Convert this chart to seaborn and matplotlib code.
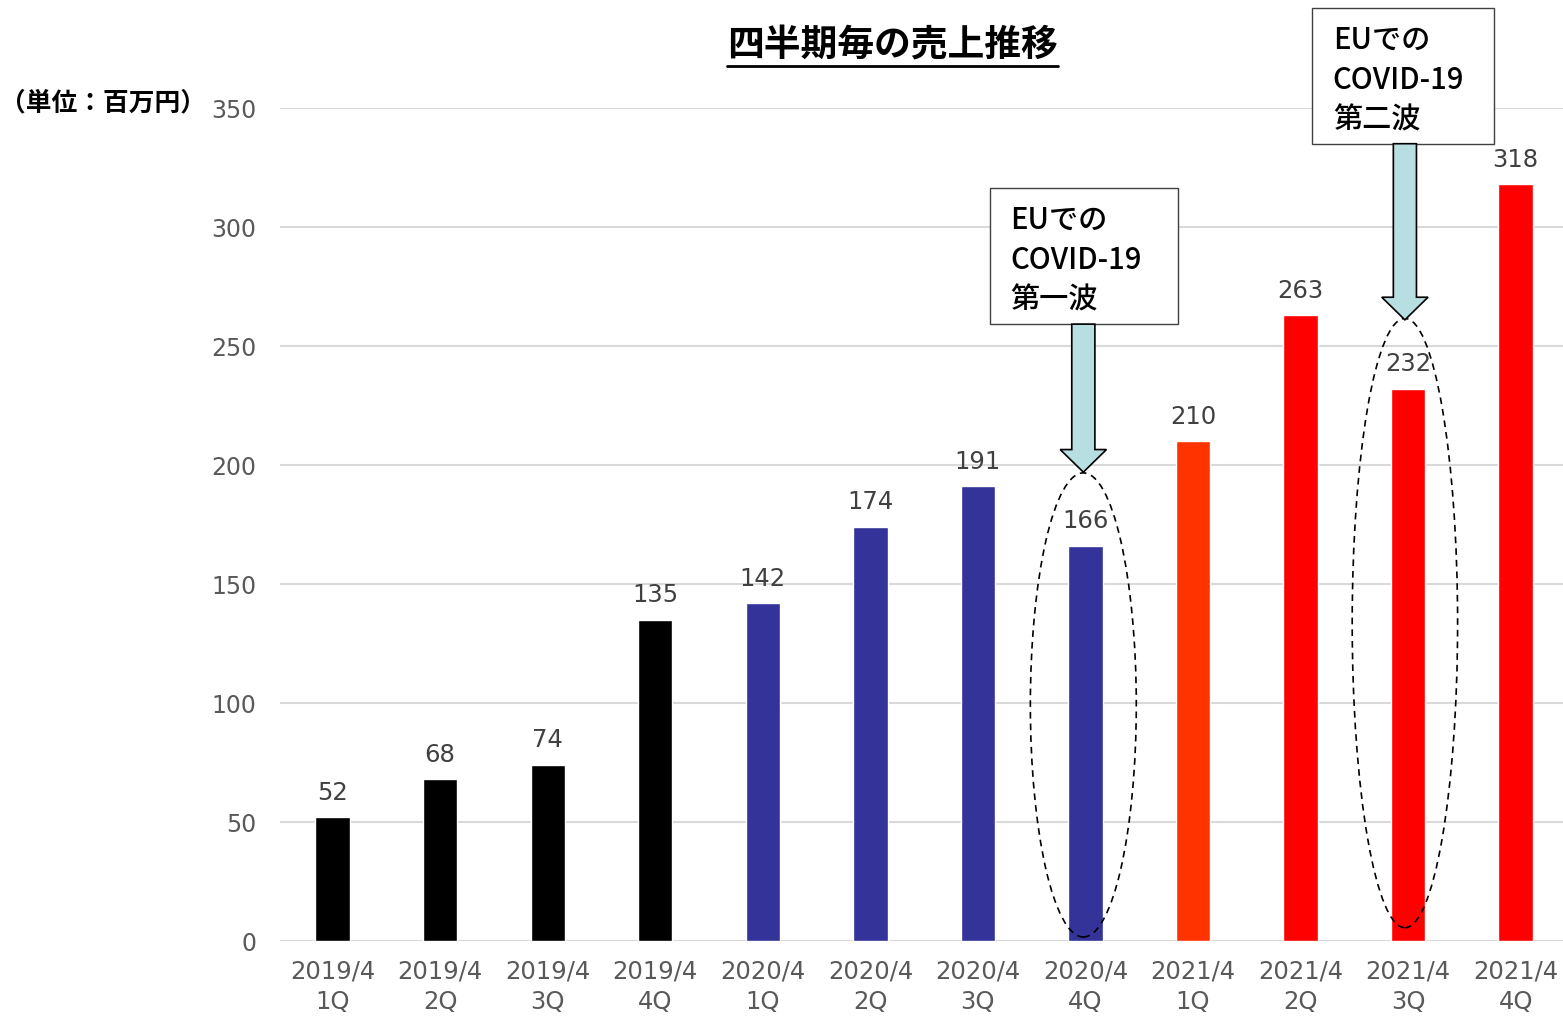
import matplotlib
matplotlib.use("Agg")
import matplotlib.pyplot as plt
import matplotlib.patches as mpatches
from matplotlib.lines import Line2D
import seaborn as sns
import pandas as pd

# Quarterly sales (million yen)
quarters = ["2019/4\n1Q", "2019/4\n2Q", "2019/4\n3Q", "2019/4\n4Q",
            "2020/4\n1Q", "2020/4\n2Q", "2020/4\n3Q", "2020/4\n4Q",
            "2021/4\n1Q", "2021/4\n2Q", "2021/4\n3Q", "2021/4\n4Q"]
sales = [52, 68, 74, 135, 142, 174, 191, 166, 210, 263, 232, 318]
bar_colors = ["#000000", "#000000", "#000000", "#000000",
              "#333399", "#333399", "#333399", "#333399",
              "#FF3300", "#FF0000", "#FF0000", "#FF0000"]
y_ticks = [0, 50, 100, 150, 200, 250, 300, 350]

title = "四半期毎の売上推移"
unit_label = "（単位：百万円）"
wave_notes = [("EUでの\nCOVID-19\n第一波", 7), ("EUでの\nCOVID-19\n第二波", 10)]

sns.set_theme(style="white")
cjk = ["Noto Sans CJK JP", "DejaVu Sans"]
plt.rcParams["font.family"] = ["DejaVu Sans"]

df = pd.DataFrame({"quarter": quarters, "sales": sales})

fig = plt.figure(figsize=(15.63, 10.18), dpi=100)
ax = fig.add_axes([0.1791, 0.0756, 0.8209, 0.8183])

sns.barplot(data=df, x="quarter", y="sales", hue="quarter",
            palette=bar_colors, width=0.32, legend=False, ax=ax,
            saturation=1)

ax.set_ylim(0, 350)
ax.set_xlim(-0.49, 11.44)
ax.set_yticks(y_ticks)
ax.set_xlabel("")
ax.set_ylabel("")
ax.yaxis.grid(True, color="#D9D9D9", linewidth=1.5)
ax.set_axisbelow(True)
for s in ax.spines.values():
    s.set_visible(False)
ax.tick_params(axis="y", length=0, pad=17, labelsize=17, labelcolor="#595959")
ax.tick_params(axis="x", length=0, pad=13, labelsize=17.5, labelcolor="#595959")
for lbl in ax.get_xticklabels():
    lbl.set_linespacing(1.35)

for cont in ax.containers:
    ax.bar_label(cont, padding=9, fontsize=17.5, color="#404040")

# Annotation boxes, arrows and dashed ellipses marking the COVID-19 waves
box_specs = {
    7: dict(box=(6.11, 259.2, 1.75, 57.2), tip=197, tail=259.2,
            ell=(6.98, 99.2, 0.985, 195)),
    10: dict(box=(9.11, 335.0, 1.69, 57.0), tip=261, tail=335.0,
             ell=(9.97, 133.6, 0.98, 256)),
}
for text, idx in wave_notes:
    spec = box_specs[idx]
    bx, by, bw, bh = spec["box"]
    ax.add_patch(mpatches.Rectangle((bx, by), bw, bh, facecolor="white",
                                    edgecolor="#404040", linewidth=1.0,
                                    clip_on=False, zorder=5))
    ax.text(bx + 0.19, by + bh / 2 - 1.8, text, family=cjk, fontsize=21,
            fontweight="medium", ha="left", va="center", linespacing=1.38,
            color="black", zorder=6, clip_on=False)
    cx = spec["ell"][0]
    ax.add_patch(mpatches.FancyArrow(cx, spec["tail"], 0,
                                     spec["tip"] - spec["tail"],
                                     width=0.215, head_width=0.43,
                                     head_length=9.5,
                                     length_includes_head=True,
                                     facecolor="#B7DEE0", edgecolor="black",
                                     linewidth=1.2, clip_on=False, zorder=5))
    ex, ey, ew, eh = spec["ell"]
    ax.add_patch(mpatches.Ellipse((ex, ey), ew, eh, fill=False,
                                  edgecolor="black", linestyle=(0, (4, 3)),
                                  linewidth=1.2, zorder=4, clip_on=False))

# Title with underline
t = fig.text(0.571, 0.955, title, family=cjk, fontsize=26.5, fontweight="bold",
             ha="center", va="center", color="black")
fig.text(0.0, 0.899, unit_label, family=cjk, fontsize=18.5,
         fontweight="bold", ha="left", va="center", color="black")

fig.canvas.draw()
bb = t.get_window_extent(fig.canvas.get_renderer()).transformed(
    fig.transFigure.inverted())
fig.add_artist(Line2D([bb.x0, bb.x1], [bb.y0 - 0.002, bb.y0 - 0.002],
                      transform=fig.transFigure, color="black",
                      linewidth=2.0))

fig.savefig("out.png", dpi=100)
